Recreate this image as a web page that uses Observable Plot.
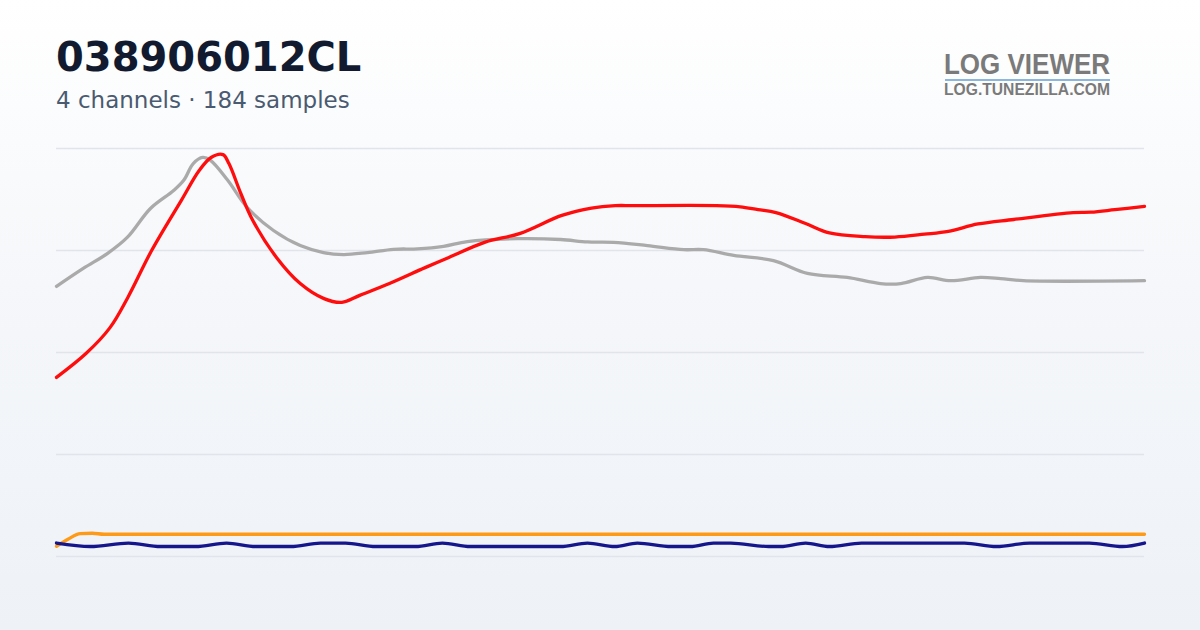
<!DOCTYPE html>
<html>
<head>
<meta charset="utf-8">
<script src="https://cdn.jsdelivr.net/npm/d3@7"></script>
<script src="https://cdn.jsdelivr.net/npm/@observablehq/plot@0.6"></script>
<style>
  html, body { margin: 0; padding: 0; }
  body {
    width: 1200px; height: 630px; overflow: hidden; position: relative;
    background: linear-gradient(to bottom, #ffffff 0%, #f5f7fa 45%, #eef2f7 100%);
    font-family: "DejaVu Sans", sans-serif;
  }
  #title { position: absolute; left: 56px; top: 37px; font-size: 40px; line-height: 1; font-weight: bold; color: #111a2e; white-space: nowrap; }
  #subtitle { position: absolute; left: 56px; top: 88.5px; font-size: 23px; line-height: 1; color: #4a5a70; white-space: nowrap; }
  .logo { position: absolute; left: 944px; font-family: "Liberation Sans", sans-serif; font-weight: bold; color: #7a7a7a; line-height: 1; white-space: nowrap; transform-origin: 0 0; }
  #logo1 { top: 50.3px; font-size: 29px; }
  #logo2 { top: 82.4px; font-size: 16px; }
  #logobar { position: absolute; left: 945px; top: 79px; width: 165px; height: 2.2px; background: #8db6dc; }
  #chart { position: absolute; left: 0; top: 130px; }
</style>
</head>
<body>
<div id="title">038906012CL</div>
<div id="subtitle">4 channels · 184 samples</div>
<div id="logo1" class="logo">LOG VIEWER</div>
<div id="logobar"></div>
<div id="logo2" class="logo">LOG.TUNEZILLA.COM</div>
<div id="chart"></div>
<script>
// sample index, value (0-100 normalized)
const redSeries = [[0,43.9],[5,49.8],[9,56.1],[12,63.5],[16,75.0],[21,87.3],[24,94.6],[26,97.8],[28,98.5],[29,96.3],[31,89.0],[33,82.4],[37,73.3],[41,66.9],[45,63.2],[48,62.3],[51,64.0],[56,66.9],[62,70.8],[66,73.3],[72,77.0],[78,79.2],[85,83.6],[90,85.4],[94,86.0],[97,86.0],[111,86.0],[115,85.7],[118,85.0],[121,84.3],[126,81.6],[130,79.3],[136,78.4],[141,78.3],[146,79.0],[150,79.7],[155,81.5],[161,82.6],[171,84.3],[174,84.4],[178,85.0],[183,85.8]];
const graySeries = [[0,66.2],[4.5,70.6],[8.6,74.3],[11.9,78.2],[15.8,85.3],[19.7,89.7],[21.4,92.2],[23,96.3],[24.6,97.8],[25.9,97.1],[28.8,92.2],[32.1,85.5],[36.5,79.9],[41,76.2],[44.9,74.5],[48.3,74.0],[52.3,74.5],[56.7,75.3],[60.7,75.4],[65.1,76.0],[69.1,77.2],[77.5,77.9],[84.8,77.7],[89.3,77.1],[93.7,77.0],[99.4,76.2],[105.5,75.2],[108.8,75.2],[113.9,73.8],[120.6,72.5],[126.3,69.4],[133,68.4],[138.6,66.9],[142,66.9],[146.5,68.4],[150.4,67.6],[155.4,68.4],[158.8,68.1],[162.6,67.6],[183,67.6]];
const orangeSeries = [[0,2.5],[2,4.3],[4,5.6],[6,5.7],[8,5.45],[183,5.45]];
const navySeries = [[0,3.3],[5.7,2.45],[12.1,3.3],[17.5,2.45],[23.4,2.45],[28.6,3.3],[33.5,2.45],[39.4,2.45],[44.4,3.3],[48.6,3.3],[53.7,2.45],[60.4,2.45],[64.9,3.3],[69.6,2.45],[84.8,2.45],[89.3,3.3],[93.9,2.45],[97.7,3.3],[103.4,2.45],[106.6,2.45],[110.5,3.3],[113.4,3.3],[119.8,2.45],[121.8,2.45],[126,3.3],[130,2.45],[135.4,3.3],[152.7,3.3],[158.1,2.45],[163.7,3.3],[173.7,3.3],[179.3,2.45],[183,3.3]];
const gridTicks = [0, 25, 50, 75, 100];

const lineOpts = (stroke, curve) => ({x: d => d[0], y: d => d[1], stroke, strokeWidth: 3.3, curve, strokeLinecap: "round", strokeLinejoin: "round"});

const chart = Plot.plot({
  width: 1200,
  height: 450,
  marginLeft: 56,
  marginRight: 56,
  marginTop: 18,
  marginBottom: 24,
  x: {domain: [0, 183], axis: null},
  y: {domain: [0, 100], axis: null},
  style: {background: "transparent", overflow: "visible"},
  marks: [
    Plot.ruleY(gridTicks, {stroke: "#e1e4ea", strokeWidth: 1.5}),
    Plot.line(graySeries, lineOpts("#aaaaaa", "catmull-rom")),
    Plot.line(redSeries, lineOpts("#ff0d0d", "catmull-rom")),
    Plot.line(orangeSeries, lineOpts("#ff9a16", "monotone-x")),
    Plot.line(navySeries, lineOpts("#15158c", "monotone-x"))
  ]
});
document.getElementById("chart").appendChild(chart);

// fit logo lines to the wordmark width
for (const id of ["logo1", "logo2"]) {
  const el = document.getElementById(id);
  const w = el.getBoundingClientRect().width;
  el.style.transform = `scaleX(${166 / w})`;
}
</script>
</body>
</html>
